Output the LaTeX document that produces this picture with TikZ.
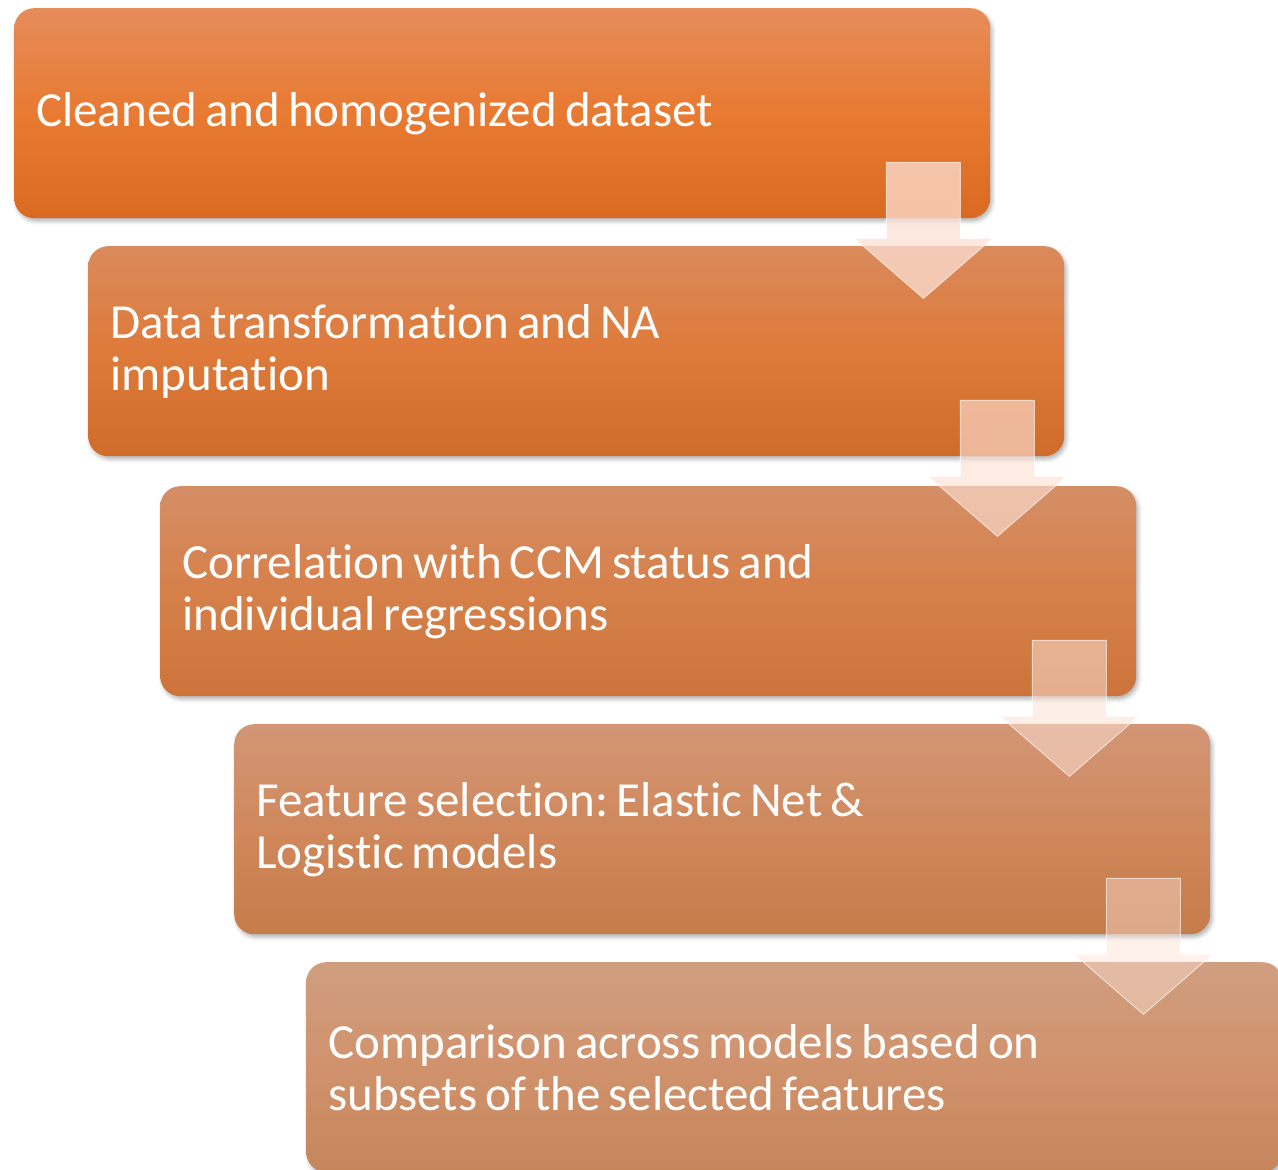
\documentclass[tikz,border=0pt]{standalone}
\usepackage{fontspec}
\setmainfont{Carlito}[Ligatures=NoCommon]
\usetikzlibrary{calc,shadows.blur}

\definecolor{s1top}{RGB}{230,140,90}
\definecolor{s1mid}{RGB}{232,122,50}
\definecolor{s1bot}{RGB}{218,106,34}
\definecolor{s2top}{RGB}{218,138,92}
\definecolor{s2mid}{RGB}{222,122,58}
\definecolor{s2bot}{RGB}{208,108,42}
\definecolor{s3top}{RGB}{212,142,102}
\definecolor{s3mid}{RGB}{214,128,74}
\definecolor{s3bot}{RGB}{204,116,58}
\definecolor{s4top}{RGB}{210,150,118}
\definecolor{s4mid}{RGB}{208,136,92}
\definecolor{s4bot}{RGB}{198,124,74}
\definecolor{s5top}{RGB}{208,158,128}
\definecolor{s5mid}{RGB}{208,146,108}
\definecolor{s5bot}{RGB}{198,134,92}
\definecolor{arrowfill}{RGB}{252,224,212}

% down arrow hanging off the lower right corner of a stage
\newcommand{\stagearrow}[2]{%
	\draw[flow=#2] ($(#1.south east)+(-104,-56)$) -- ($(#1.south east)+(-30,-56)$)
		-- ($(#1.south east)+(-30,20)$) -- ($(#1.south east)+(2,20)$)
		-- ($(#1.south east)+(-67,80)$) -- ($(#1.south east)+(-136,20)$)
		-- ($(#1.south east)+(-104,20)$) -- cycle;}

\begin{document}
\begin{tikzpicture}[
		x=1pt, y=-1pt,
		stage/.style={rectangle, rounded corners=20, anchor=north west,
			text width=932, inner xsep=22, minimum height=210,
			align=left, text=white, font=\fontsize{49}{52}\selectfont,
			execute at begin node={\spaceskip=8pt\xspaceskip=8pt\relax},
			blur shadow={shadow xshift=2pt, shadow yshift=-3pt,
				shadow blur radius=4pt, shadow opacity=30}},
		flow/.style={fill=arrowfill, fill opacity=#1, draw=white,
			draw opacity=0.6, line width=1}]

		\useasboundingbox (0,0) rectangle (1278,1170);

		\node[stage, top color=s1top, bottom color=s1bot, middle color=s1mid]
			(clean) at (14,8) {Cleaned and homogenized dataset};
		\node[stage, top color=s2top, bottom color=s2bot, middle color=s2mid]
			(transf) at ($ (clean.north west) + (74,238) $) {Data transformation and NA\\imputation};
		\node[stage, top color=s3top, bottom color=s3bot, middle color=s3mid]
			(corr) at ($ (transf.north west) + (72,240) $) {Correlation with CCM status and\\individual regressions};
		\node[stage, top color=s4top, bottom color=s4bot, middle color=s4mid]
			(feat) at ($ (corr.north west) + (74,238) $) {Feature selection: Elastic Net \&\\Logistic models};
		\node[stage, top color=s5top, bottom color=s5bot, middle color=s5mid]
			(comp) at ($ (feat.north west) + (72,238) $) {Comparison across models based on\\subsets of the selected features};

		\stagearrow{clean}{0.75}
		\stagearrow{transf}{0.64}
		\stagearrow{corr}{0.54}
		\stagearrow{feat}{0.45}

\end{tikzpicture}
\end{document}
